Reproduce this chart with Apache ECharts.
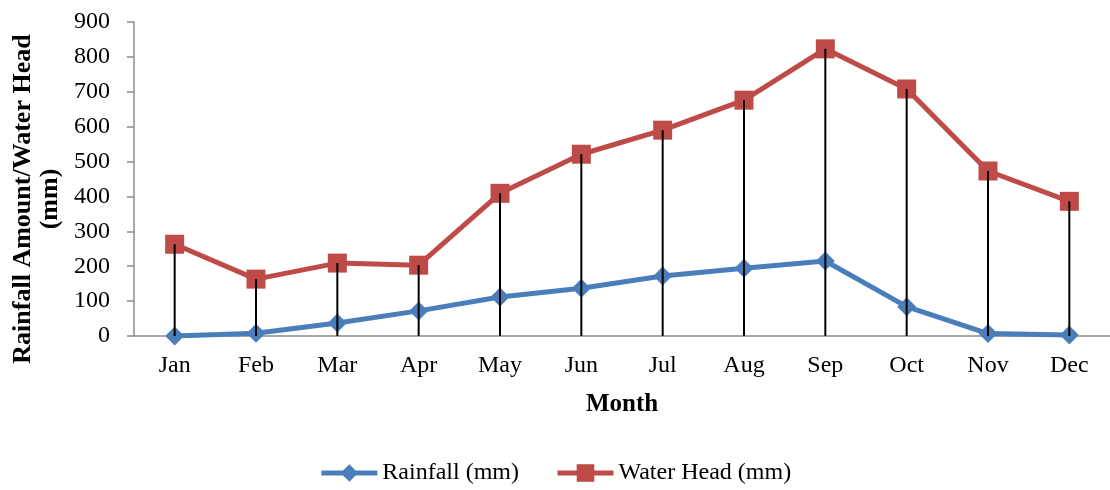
<!DOCTYPE html>
<html>
<head>
<meta charset="utf-8">
<script src="https://cdn.jsdelivr.net/npm/echarts@6/dist/echarts.min.js"></script>
<style>
  html, body { margin: 0; padding: 0; background: #fff; }
  #chart { width: 1110px; height: 490px; }
</style>
</head>
<body>
<div id="chart"></div>
<script>
// Monthly rainfall and water head, in millimetres
const months = ['Jan', 'Feb', 'Mar', 'Apr', 'May', 'Jun', 'Jul', 'Aug', 'Sep', 'Oct', 'Nov', 'Dec'];
const rainfall = [0, 8, 37, 72, 112, 137, 172, 194, 215, 84, 7, 3];
const waterHead = [263, 163, 209, 203, 409, 521, 590, 676, 823, 708, 473, 386];
const yTicks = [0, 100, 200, 300, 400, 500, 600, 700, 800, 900];
const yTitle = 'Rainfall Amount/Water Head\n(mm)';

const serif = '"Liberation Serif", "DejaVu Serif", serif';
const chart = echarts.init(document.getElementById('chart'));

chart.setOption({
  animation: false,
  backgroundColor: '#ffffff',
  textStyle: { fontFamily: serif, color: '#000' },
  grid: { left: 134, top: 22, bottom: 154, right: -13, containLabel: false },
  graphic: [{
    // vertical axis title, two lines reading bottom to top
    type: 'text',
    x: 37,
    y: 199,
    rotation: Math.PI / 2,
    style: {
      text: yTitle,
      font: 'bold 26px ' + serif,
      fill: '#000',
      align: 'center',
      verticalAlign: 'middle',
      lineHeight: 27
    }
  }],
  legend: {
    top: 456,
    left: 'center',
    itemWidth: 56,
    itemHeight: 22,
    itemGap: 36,
    lineStyle: { width: 5 },
    textStyle: { fontFamily: serif, fontSize: 24, color: '#000' },
    data: ['Rainfall (mm)', 'Water Head (mm)']
  },
  xAxis: {
    type: 'category',
    data: months,
    boundaryGap: true,
    name: 'Month',
    nameLocation: 'middle',
    nameGap: 56,
    nameTextStyle: { fontFamily: serif, fontSize: 25, fontWeight: 'bold', color: '#000' },
    axisLine: { lineStyle: { color: '#8c8c8c', width: 1.5 } },
    axisTick: { show: false },
    axisLabel: { fontFamily: serif, fontSize: 24, color: '#000', margin: 18 }
  },
  yAxis: {
    type: 'value',
    min: yTicks[0],
    max: yTicks[yTicks.length - 1],
    interval: 100,
    axisLine: { show: true, lineStyle: { color: '#8c8c8c', width: 1.5 } },
    axisTick: { show: true, length: 7, lineStyle: { color: '#8c8c8c', width: 1.5 } },
    splitLine: { show: false },
    axisLabel: { fontFamily: serif, fontSize: 24, color: '#000', margin: 24 }
  },
  series: [
    {
      name: 'Rainfall (mm)',
      type: 'line',
      data: rainfall,
      symbol: 'diamond',
      symbolSize: 19,
      lineStyle: { color: '#4a7ebb', width: 5 },
      itemStyle: { color: '#4a7ebb' },
      z: 3
    },
    {
      name: 'Water Head (mm)',
      type: 'line',
      data: waterHead,
      symbol: 'rect',
      symbolSize: 19,
      lineStyle: { color: '#be4b48', width: 5 },
      itemStyle: { color: '#be4b48' },
      z: 4
    },
    {
      // drop lines from each water-head point down to the axis
      name: 'drop',
      type: 'bar',
      data: waterHead,
      barWidth: 2,
      itemStyle: { color: '#000' },
      silent: true,
      z: 5
    }
  ]
});
</script>
</body>
</html>
